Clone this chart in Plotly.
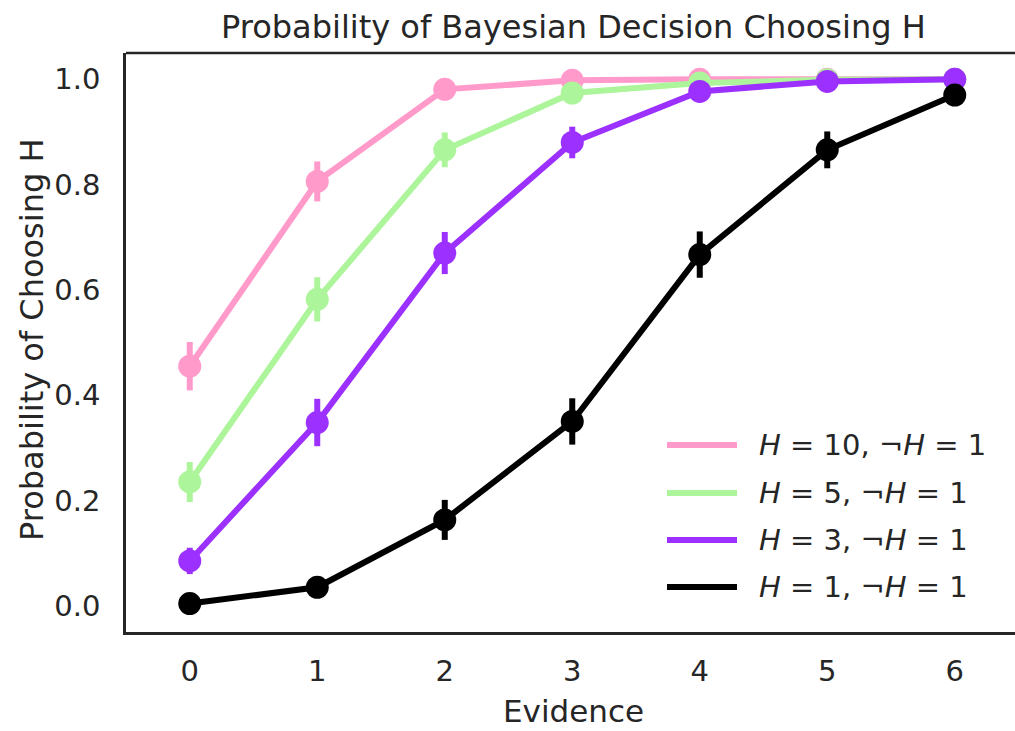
import plotly.graph_objects as go

evidence = [0, 1, 2, 3, 4, 5, 6]
series_names = ["H10", "H5", "H3", "H1"]
legend_labels = [
    "<i>H</i> = 10, ¬<i>H</i> = 1",
    "<i>H</i> = 5, ¬<i>H</i> = 1",
    "<i>H</i> = 3, ¬<i>H</i> = 1",
    "<i>H</i> = 1, ¬<i>H</i> = 1",
]
p_h10 = [0.455, 0.806, 0.981, 0.998, 1.0, 1.0, 1.0]
p_h5 = [0.235, 0.582, 0.866, 0.974, 0.993, 0.999, 1.0]
p_h3 = [0.085, 0.348, 0.670, 0.880, 0.977, 0.996, 1.0]
p_h1 = [0.004, 0.035, 0.163, 0.350, 0.667, 0.866, 0.970]
err_h10 = [0.046, 0.038, 0.006, 0.002, 0.0, 0.0, 0.0]
err_h5 = [0.038, 0.042, 0.033, 0.012, 0.005, 0.001, 0.0]
err_h3 = [0.025, 0.045, 0.040, 0.030, 0.012, 0.004, 0.0]
err_h1 = [0.004, 0.015, 0.038, 0.044, 0.044, 0.035, 0.012]
colors = ["#FF9ACB", "#ADF59B", "#9B30FF", "#000000"]

values = [p_h10, p_h5, p_h3, p_h1]
errors = [err_h10, err_h5, err_h3, err_h1]

FONT = "DejaVu Sans"
TXT = "#262626"
W, H = 1015, 731
ML, MR, MT, MB = 126, 0, 53, 99
PW, PH = W - ML - MR, H - MT - MB

fig = go.Figure()
for name, v, e, c in zip(series_names, values, errors, colors):
    fig.add_trace(go.Scatter(
        x=evidence, y=v, mode="lines+markers", name=name,
        line=dict(color=c, width=6),
        marker=dict(color=c, size=23, line=dict(width=0)),
        error_y=dict(type="data", array=e, visible=True, color=c, thickness=6, width=0),
        showlegend=False,
    ))

def px_x(p):
    return (p - ML) / PW

def px_y(p):
    return (H - MB - p) / PH

shapes = [dict(type="line", xref="paper", yref="paper", x0=0, x1=1, y0=1, y1=1,
               line=dict(color=TXT, width=2.5))]
annotations = []
rows = [445, 493, 540, 587]
for lab, c, ry in zip(legend_labels, colors, rows):
    shapes.append(dict(type="line", xref="paper", yref="paper",
                       x0=px_x(667), x1=px_x(737), y0=px_y(ry), y1=px_y(ry),
                       line=dict(color=c, width=6)))
    annotations.append(dict(xref="paper", yref="paper", x=px_x(757), y=px_y(ry),
                            text=lab, showarrow=False, xanchor="left", yanchor="middle",
                            font=dict(family=FONT, size=29, color=TXT)))

annotations.append(dict(xref="paper", yref="paper", x=px_x(32), y=px_y(340),
                        text="Probability of Choosing H", textangle=-90, showarrow=False,
                        xanchor="center", yanchor="middle",
                        font=dict(family=FONT, size=32, color=TXT)))
annotations.append(dict(xref="paper", yref="paper", x=px_x(573), y=px_y(711),
                        text="Evidence", showarrow=False,
                        xanchor="center", yanchor="middle",
                        font=dict(family=FONT, size=31, color=TXT)))
annotations.append(dict(xref="paper", yref="paper", x=px_x(573), y=px_y(27),
                        text="Probability of Bayesian Decision Choosing H", showarrow=False,
                        xanchor="center", yanchor="middle",
                        font=dict(family=FONT, size=32, color=TXT)))

fig.update_layout(
    width=W, height=H,
    margin=dict(l=ML, r=MR, t=MT, b=MB, pad=0),
    paper_bgcolor="white", plot_bgcolor="white",
    font=dict(family=FONT, size=29, color=TXT),
    shapes=shapes, annotations=annotations,
    xaxis=dict(range=[-0.5, -0.5 + PW / 127.5], tickvals=evidence, ticktext=[str(v) for v in evidence],
               showgrid=False, zeroline=False, showline=True, linecolor=TXT, linewidth=2.5,
               ticks="", ticklabelstandoff=11, tickfont=dict(family=FONT, size=29, color=TXT)),
    yaxis=dict(range=[-0.05, 1.05], tickvals=[0, 0.2, 0.4, 0.6, 0.8, 1.0],
               ticktext=["0.0", "0.2", "0.4", "0.6", "0.8", "1.0"],
               showgrid=False, zeroline=False, showline=True, linecolor=TXT, linewidth=2.5,
               ticks="", ticklabelstandoff=17, tickfont=dict(family=FONT, size=29, color=TXT)),
)

fig.write_html("out.html", config={"displayModeBar": False},
               post_script="document.body.style.margin='0';document.body.style.overflow='hidden';")
